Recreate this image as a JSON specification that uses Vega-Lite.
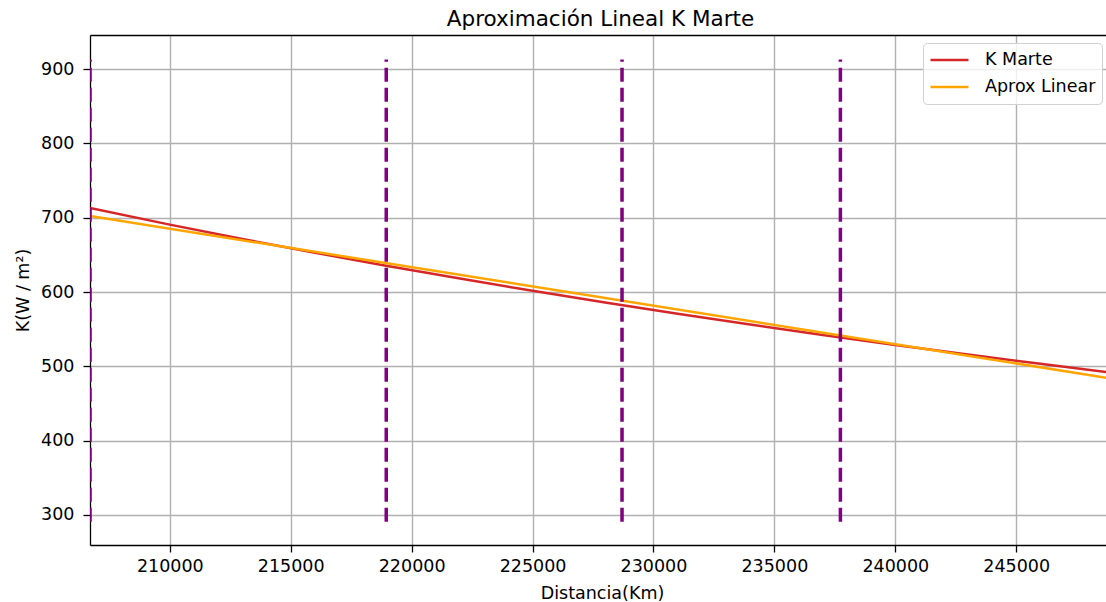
{
  "$schema": "https://vega.github.io/schema/vega-lite/v6.json",
  "width": 1016,
  "height": 510,
  "autosize": {"type": "none"},
  "padding": {"left": 90, "top": 35, "right": 0, "bottom": 57},
  "background": "white",
  "title": {
    "text": "Aproximación Lineal K Marte",
    "font": "DejaVu Sans",
    "fontSize": 21.5,
    "fontWeight": "normal",
    "color": "#000000",
    "anchor": "middle",
    "baseline": "alphabetic",
    "offset": 10,
    "dx": 2.5,
    "dy": 22
  },
  "config": {
    "font": "DejaVu Sans",
    "view": {"stroke": null},
    "axis": {
      "domainColor": "#000000",
      "domainWidth": 1.3,
      "tickColor": "#000000",
      "tickWidth": 1.3,
      "tickSize": 7,
      "labelFont": "DejaVu Sans",
      "labelFontSize": 17.5,
      "labelColor": "#000000",
      "titleFont": "DejaVu Sans",
      "titleFontSize": 17.5,
      "titleFontWeight": "normal",
      "titleColor": "#000000",
      "gridColor": "#b0b0b0",
      "gridWidth": 1.4,
      "gridOpacity": 1
    }
  },
  "datasets": {
    "curvas": [
      {"distancia": 206700, "k": 712.92, "serie": "K Marte"},
      {"distancia": 210000, "k": 690.69, "serie": "K Marte"},
      {"distancia": 213000, "k": 671.37, "serie": "K Marte"},
      {"distancia": 216000, "k": 652.85, "serie": "K Marte"},
      {"distancia": 219000, "k": 635.09, "serie": "K Marte"},
      {"distancia": 222000, "k": 618.04, "serie": "K Marte"},
      {"distancia": 225000, "k": 601.67, "serie": "K Marte"},
      {"distancia": 228000, "k": 585.94, "serie": "K Marte"},
      {"distancia": 231000, "k": 570.82, "serie": "K Marte"},
      {"distancia": 234000, "k": 556.28, "serie": "K Marte"},
      {"distancia": 237000, "k": 542.28, "serie": "K Marte"},
      {"distancia": 240000, "k": 528.81, "serie": "K Marte"},
      {"distancia": 243000, "k": 515.83, "serie": "K Marte"},
      {"distancia": 246000, "k": 503.33, "serie": "K Marte"},
      {"distancia": 249000, "k": 491.27, "serie": "K Marte"},
      {"distancia": 206700, "k": 702.3, "serie": "Aprox Linear"},
      {"distancia": 249000, "k": 483.2, "serie": "Aprox Linear"}
    ],
    "lineas": [
      {"distancia": 206700, "k_ini": 291, "k_fin": 913},
      {"distancia": 218950, "k_ini": 291, "k_fin": 913},
      {"distancia": 228700, "k_ini": 291, "k_fin": 913},
      {"distancia": 237730, "k_ini": 291, "k_fin": 913}
    ]
  },
  "resolve": {"axis": {"x": "independent"}},
  "layer": [
    {
      "data": {"name": "curvas"},
      "transform": [{"filter": "datum.serie === 'K Marte'"}],
      "mark": {"type": "line", "strokeWidth": 2.5, "clip": true},
      "encoding": {
        "x": {
          "field": "distancia",
          "type": "quantitative",
          "scale": {"domain": [206700, 248713], "nice": false, "zero": false},
          "axis": {
            "orient": "bottom",
            "values": [210000, 215000, 220000, 225000, 230000, 235000, 240000, 245000],
            "format": "d",
            "labelFlush": false,
            "labelOverlap": false,
            "labelPadding": 5,
            "grid": true,
            "title": "Distancia(Km)",
            "titleBaseline": "alphabetic",
            "titleY": 53,
            "titleX": 512
          }
        },
        "y": {
          "field": "k",
          "type": "quantitative",
          "title": "K(W / m²)",
          "scale": {"domain": [259.6, 945.8], "nice": false, "zero": false},
          "axis": {
            "values": [300, 400, 500, 600, 700, 800, 900],
            "labelPadding": 9,
            "grid": true,
            "titleBaseline": "alphabetic",
            "titleX": -61.5,
            "titleY": 255
          }
        },
        "color": {
          "field": "serie",
          "type": "nominal",
          "scale": {"domain": ["K Marte", "Aprox Linear"], "range": ["#d62728", "#ffa500"]},
          "legend": {
            "orient": "none",
            "legendX": 833,
            "legendY": 8,
            "title": null,
            "symbolType": "stroke",
            "symbolSize": 1444,
            "symbolStrokeWidth": 2.6,
            "labelFont": "DejaVu Sans",
            "labelFontSize": 17.5,
            "labelColor": "#000000",
            "labelOffset": 15,
            "padding": 6,
            "strokeColor": "#d0d0d0",
            "fillColor": "rgba(255,255,255,0.8)",
            "cornerRadius": 4,
            "clipHeight": 22,
            "rowPadding": 5
          }
        }
      }
    },
    {
      "data": {"name": "curvas"},
      "transform": [{"filter": "datum.serie === 'Aprox Linear'"}],
      "mark": {"type": "line", "strokeWidth": 2.5, "clip": true},
      "encoding": {
        "x": {"field": "distancia", "type": "quantitative", "axis": null},
        "y": {"field": "k", "type": "quantitative", "title": "K(W / m²)"},
        "color": {
          "field": "serie",
          "type": "nominal",
          "scale": {"domain": ["K Marte", "Aprox Linear"], "range": ["#d62728", "#ffa500"]},
          "legend": {
            "orient": "none",
            "legendX": 833,
            "legendY": 8,
            "title": null,
            "symbolType": "stroke",
            "symbolSize": 1444,
            "symbolStrokeWidth": 2.6,
            "labelFont": "DejaVu Sans",
            "labelFontSize": 17.5,
            "labelColor": "#000000",
            "labelOffset": 15,
            "padding": 6,
            "strokeColor": "#d0d0d0",
            "fillColor": "rgba(255,255,255,0.8)",
            "cornerRadius": 4,
            "clipHeight": 22,
            "rowPadding": 5
          }
        }
      }
    },
    {
      "data": {"name": "lineas"},
      "mark": {"type": "rule", "color": "#800080", "strokeWidth": 3.5, "strokeDash": [14, 6], "clip": true},
      "encoding": {
        "x": {
          "field": "distancia",
          "type": "quantitative",
          "axis": {"orient": "top", "labels": false, "ticks": false, "grid": false, "domain": true, "title": null}
        },
        "y": {"field": "k_ini", "type": "quantitative", "title": "K(W / m²)"},
        "y2": {"field": "k_fin"}
      }
    }
  ]
}
